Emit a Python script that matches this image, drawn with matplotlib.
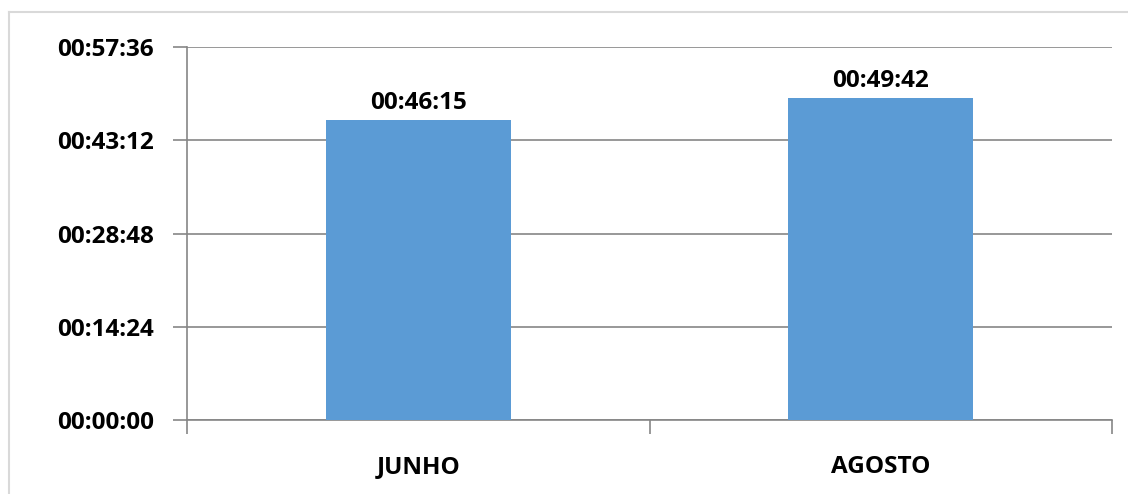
import matplotlib.pyplot as plt
from matplotlib.ticker import FuncFormatter, MultipleLocator
from matplotlib.lines import Line2D

# dados
meses = ['JUNHO', 'AGOSTO']
tempos = ['00:46:15', '00:49:42']


def to_sec(t):
    h, m, s = map(int, t.split(':'))
    return h * 3600 + m * 60 + s


def fmt(v, pos=None):
    v = int(round(v))
    return '%02d:%02d:%02d' % (v // 3600, (v % 3600) // 60, v % 60)


valores = [to_sec(t) for t in tempos]

plt.rcParams['font.family'] = ['Open Sans', 'DejaVu Sans']
fig = plt.figure(figsize=(11.28, 4.94), dpi=100)
ax = fig.add_axes([187 / 1128, 74 / 494, 925 / 1128, 373 / 494])

grid_c = '#868686'
fs = 17.5
ax.bar(range(len(meses)), valores, width=0.4, color='#5B9BD5', zorder=3)
ax.set_xlim(-0.5, 1.5)
ax.set_ylim(0, 3456)
ax.yaxis.set_major_locator(MultipleLocator(864))
ax.yaxis.set_major_formatter(FuncFormatter(fmt))
ax.grid(axis='y', color=grid_c, linewidth=1.2, zorder=0)

for i, v in enumerate(valores):
    ax.text(i, v + 50, tempos[i], ha='center', va='bottom',
            fontsize=fs, fontweight='bold')

ax.set_xticks([-0.5, 0.5, 1.5], minor=False)
ax.set_xticklabels([])
ax.set_xticks(range(len(meses)), minor=True)
ax.set_xticklabels(meses, minor=True, fontsize=fs, fontweight='bold')
ax.tick_params(axis='x', which='major', length=10, color=grid_c, width=1.2)
ax.tick_params(axis='x', which='minor', length=0, pad=25)
ax.tick_params(axis='y', length=10, color=grid_c, width=1.2, pad=14,
               labelsize=fs)
for lab in ax.get_yticklabels():
    lab.set_fontweight('bold')

for s in ['top', 'right']:
    ax.spines[s].set_visible(False)
for s in ['left', 'bottom']:
    ax.spines[s].set_color(grid_c)
    ax.spines[s].set_linewidth(1.2)

# moldura do gráfico
fig.add_artist(Line2D([9 / 1128, 9 / 1128], [0, 1 - 12 / 494],
                      color='#d9d9d9', linewidth=1.5, transform=fig.transFigure))
fig.add_artist(Line2D([9 / 1128, 1], [1 - 12 / 494, 1 - 12 / 494],
                      color='#d9d9d9', linewidth=1.5, transform=fig.transFigure))

fig.savefig('out.png', dpi=100)
